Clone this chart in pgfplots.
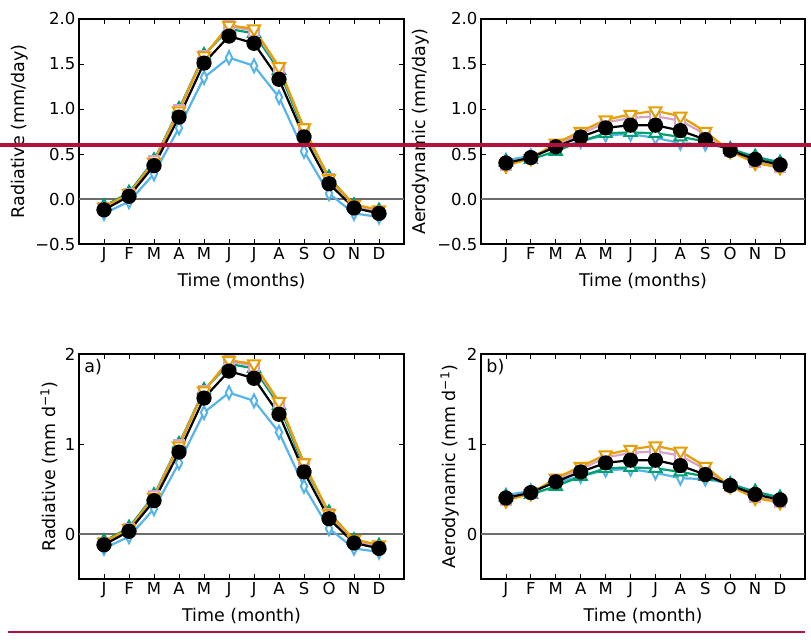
\documentclass[border=0pt]{standalone}
\usepackage{pgfplots}
\pgfplotsset{compat=1.18}
\usepackage{pgfplotstable}
\usepackage{fontspec}
\setmainfont{DejaVu Sans}
\definecolor{cblue}{HTML}{56B4E9}
\definecolor{cteal}{HTML}{009E73}
\definecolor{cpink}{HTML}{D8A3C6}
\definecolor{corange}{HTML}{E69F00}
\definecolor{cred}{HTML}{B5103C}

\pgfplotstableread{
m blue teal pink orange black
0 -0.16 -0.08 -0.10 -0.09 -0.12
1 -0.03 0.07 0.05 0.06 0.03
2 0.28 0.43 0.42 0.41 0.37
3 0.79 1.00 0.99 0.98 0.91
4 1.35 1.60 1.59 1.59 1.51
5 1.57 1.89 1.92 1.93 1.81
6 1.48 1.84 1.87 1.89 1.73
7 1.13 1.43 1.46 1.47 1.33
8 0.53 0.75 0.78 0.79 0.69
9 0.06 0.24 0.22 0.23 0.17
10 -0.16 -0.07 -0.08 -0.06 -0.10
11 -0.20 -0.13 -0.14 -0.12 -0.16
}\radtab

\pgfplotstableread{
m blue teal pink orange black
0 0.43 0.41 0.38 0.37 0.40
1 0.48 0.44 0.45 0.45 0.46
2 0.57 0.53 0.60 0.62 0.58
3 0.64 0.64 0.72 0.75 0.69
4 0.71 0.73 0.85 0.88 0.79
5 0.72 0.74 0.90 0.94 0.82
6 0.68 0.73 0.92 0.98 0.82
7 0.62 0.69 0.87 0.92 0.76
8 0.61 0.64 0.72 0.75 0.66
9 0.56 0.55 0.53 0.53 0.54
10 0.47 0.47 0.41 0.40 0.44
11 0.41 0.40 0.36 0.35 0.38
}\aerotab

\pgfplotsset{
  myax/.style={
    scale only axis, anchor=south west,
    height=225pt,
    xmin=-1, xmax=12, ymin=-0.5, ymax=2,
    xtick={0,...,11},
    xticklabels={J,F,M,A,M,J,J,A,S,O,N,D},
    tick align=inside, tick pos=both,
    major tick length=5pt,
    every tick/.style={black, line width=0.8pt},
    axis line style={line width=1.8pt},
    ticklabel style={font=\fontsize{16.5}{19}\selectfont},
    label style={font=\fontsize{17.5}{21}\selectfont},
    xlabel style={at={(axis description cs:0.5,-0.164)}, anchor=center},
    /pgf/number format/assume math mode=true,
    clip=false,
  },
  topy/.style={
    ytick={-0.5,0,0.5,1,1.5,2},
    yticklabels={−0.5,0.0,0.5,1.0,1.5,2.0},
  },
  boty/.style={
    ytick={0,1,2},
    yticklabels={0,1,2},
  },
}

\newcommand{\series}[1]{%
  \addplot[gray!85!black, line width=1.2pt, forget plot] coordinates {(-1,0) (12,0)};
  \addplot[cblue, line width=2.2pt, mark=diamond*, mark size=6.5pt, mark options={xscale=0.65, fill=white, line width=2pt}] table[x=m, y=blue] {#1};
  \addplot[cteal, line width=2.2pt, mark=triangle*, mark size=7pt, mark options={fill=white, line width=2pt}] table[x=m, y=teal] {#1};
  \addplot[cpink, line width=2.2pt, mark=square*, mark size=5pt, mark options={fill=white, line width=2pt}] table[x=m, y=pink] {#1};
  \addplot[corange, line width=2.2pt, mark=triangle*, mark size=7pt, mark options={rotate=180, fill=white, line width=2pt}] table[x=m, y=orange] {#1};
  \addplot[black, line width=2.2pt, mark=*, mark size=6.5pt] table[x=m, y=black] {#1};
}

\begin{document}
\begin{tikzpicture}
\path[use as bounding box] (0pt,0pt) rectangle (811pt,642pt);

\begin{axis}[myax, topy, at={(79pt,398pt)}, width=325pt,
  xlabel={Time (months)}, ylabel={Radiative (mm/day)},
  ylabel style={at={(axis description cs:-0.182,0.5)}, anchor=center}]
\series{\radtab}
\end{axis}

\begin{axis}[myax, topy, at={(481pt,398pt)}, width=324pt,
  xlabel={Time (months)}, ylabel={Aerodynamic (mm/day)},
  ylabel style={at={(axis description cs:-0.185,0.5)}, anchor=center}]
\series{\aerotab}
\end{axis}

\begin{axis}[myax, boty, at={(79pt,63pt)}, width=325pt,
  xlabel={Time (month)}, ylabel={Radiative (mm d\textsuperscript{−1})},
  ylabel style={at={(axis description cs:-0.092,0.5)}, anchor=center}]
\series{\radtab}
\node[anchor=north west, font=\fontsize{17.5}{21}\selectfont, inner sep=2pt] at (axis description cs:0.01,0.985) {a)};
\end{axis}

\begin{axis}[myax, boty, at={(481pt,63pt)}, width=324pt,
  xlabel={Time (month)}, ylabel={Aerodynamic (mm d\textsuperscript{−1})},
  ylabel style={at={(axis description cs:-0.096,0.5)}, anchor=center}]
\series{\aerotab}
\node[anchor=north west, font=\fontsize{17.5}{21}\selectfont, inner sep=2pt] at (axis description cs:0.01,0.985) {b)};
\end{axis}

\draw[cred, line width=4pt] (0pt,497pt) -- (811pt,497pt);
\draw[cred, line width=2pt] (8pt,10pt) -- (805pt,10pt);
\end{tikzpicture}
\end{document}
